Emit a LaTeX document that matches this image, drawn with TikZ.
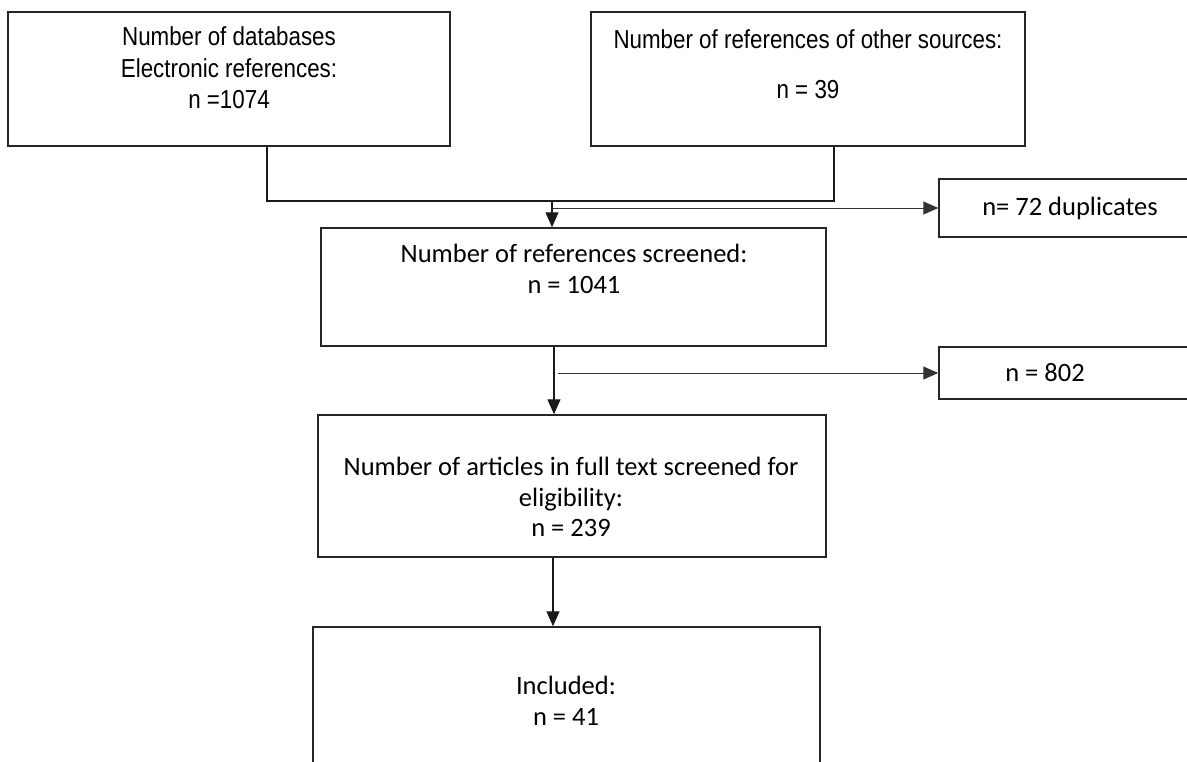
\documentclass[tikz,border=0pt]{standalone}
\usepackage{fontspec}
\setmainfont{Liberation Sans}
\newfontfamily\arialnarrow[FakeStretch=0.86]{Liberation Sans}
\newfontfamily\carlito{Carlito}
\usetikzlibrary{arrows.meta}

\begin{document}
\begin{tikzpicture}[
    x=1pt, y=-1pt,
    box/.style={draw=black!85, line width=1.5pt, inner sep=0pt},
    toptext/.style={align=center, inner sep=0pt, font=\arialnarrow\fontsize{26}{31.5}\selectfont},
    lowtext/.style={align=center, inner sep=0pt, font=\carlito\fontsize{26.5}{30.5}\selectfont},
    flow/.style={line width=1.3pt, black!90},
    arrow/.style={flow, -{Triangle[length=15pt,width=13pt]}},
    side/.style={line width=1pt, black!80, -{Triangle[length=15pt,width=13pt]}}
]
    \useasboundingbox (0,0) rectangle (1187,761);
    \clip (0,0) rectangle (1187,761);

    \node[box, minimum width=442pt, minimum height=134pt] (db) at (229,79) {};
    \node[box, minimum width=434pt, minimum height=134pt] (src) at (808,79) {};
    \node[box, minimum width=261pt, minimum height=58pt] (dup) at (1069.5,208) {};
    \node[box, minimum width=505pt, minimum height=118pt] (scr) at (573.5,287) {};
    \node[box, minimum width=261pt, minimum height=52pt] (rej) at (1069.5,373) {};
    \node[box, minimum width=508pt, minimum height=142pt] (full) at (572,486) {};
    \node[box, minimum width=507pt, minimum height=173pt] (incl) at (566.5,713.5) {};

    \node[toptext] (dbtext) at (229,68) {Number of databases\\ Electronic references:\\ n =1074};
    \node[toptext] (srctext) at (808,64) {Number of references of other sources:\\[19pt] n = 39};
    \node[lowtext] (duptext) at (1070,208) {n= 72 duplicates};
    \node[lowtext] (scrtext) at (574,269) {Number of references screened:\\ n = 1041};
    \node[lowtext] (rejtext) at (1045,373) {n = 802};
    \node[lowtext] (fulltext) at (571,497) {Number of articles in full text screened for\\ eligibility:\\ n = 239};
    \node[lowtext] (incltext) at (566,701) {Included:\\ n = 41};

    \coordinate (jl) at (267,201);
    \coordinate (jr) at (834,201);
    \coordinate (jm) at (552,201);
    \coordinate (jd) at (553,208);
    \coordinate (k1) at (554,0);
    \coordinate (kd) at (558,373);
    \coordinate (k2) at (553,0);

    \draw[flow] (db.south -| jl) -- (jl) -- (jr) -- (src.south -| jr);
    \draw[arrow] (jm) -- (jm |- scr.north);
    \draw[side] (jd) -- (dup.west);
    \draw[arrow] (scr.south -| k1) -- (full.north -| k1);
    \draw[side] (kd) -- (rej.west);
    \draw[arrow] (full.south -| k2) -- (incl.north -| k2);
\end{tikzpicture}
\end{document}
